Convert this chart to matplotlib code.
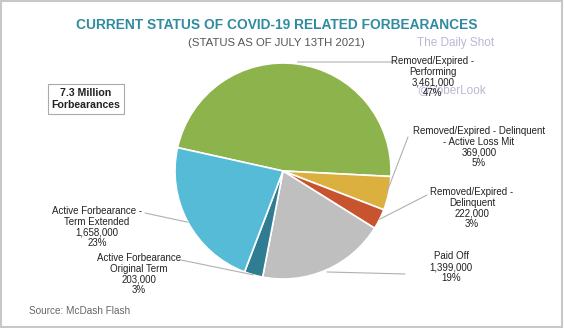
import numpy as np
import matplotlib
matplotlib.use("Agg")
import matplotlib.pyplot as plt
from matplotlib.patches import Rectangle

# データ
categories = ["Removed/Expired -\nPerforming",
              "Removed/Expired - Delinquent\n- Active Loss Mit",
              "Removed/Expired -\nDelinquent",
              "Paid Off",
              "Active Forbearance\nOriginal Term",
              "Active Forbearance -\nTerm Extended"]
values = [3461000, 369000, 222000, 1399000, 203000, 1658000]
percents = [47, 5, 3, 19, 3, 23]
colors = ["#8db34c", "#dcb03e", "#c8532f", "#bfbfbf", "#2f7c93", "#55bbd6"]

W, H = 564, 328
plt.rcParams['font.family'] = ['Liberation Sans', 'DejaVu Sans']

fig = plt.figure(figsize=(W / 100, H / 100), dpi=100)
fig.patch.set_facecolor("white")

# 外枠
fig.patches.append(Rectangle((0.002, 0.003), 0.994, 0.994, transform=fig.transFigure,
                             fill=False, edgecolor="#c8c8c8", linewidth=1.5))

def fx(px):
    return px / W

def fy(py):
    return 1 - py / H

# 円グラフ（中心 283,171 半径 108 px）
cx, cy, r = 283, 171, 108
ax = fig.add_axes([fx(cx - r), fy(cy + r), 2 * r / W, 2 * r / H])
wedges, _ = ax.pie(values, colors=colors, startangle=167.5, counterclock=False,
                   radius=1, wedgeprops=dict(edgecolor="white", linewidth=1.2))
ax.set_xlim(-1, 1)
ax.set_ylim(-1, 1)
ax.axis("off")

# タイトル
fig.text(fx(277), fy(25), "CURRENT STATUS OF COVID-19 RELATED FORBEARANCES",
         ha="center", va="center", fontsize=9.9, fontweight="bold", color="#2f8ba0")
fig.text(fx(276), fy(43), "(STATUS AS OF JULY 13TH 2021)",
         ha="center", va="center", fontsize=8.2, color="#555555")

# ウォーターマーク
fig.text(fx(456), fy(43), "The Daily Shot", ha="center", va="center",
         fontsize=8.5, color="#b8b8d4")
fig.text(fx(452), fy(90), "@SoberLook", ha="center", va="center",
         fontsize=8.5, color="#b8b8d4")

# 合計ボックス
fig.text(fx(86), fy(99), "7.3 Million\nForbearances", ha="center", va="center",
         fontsize=7.6, fontweight="bold", color="#222222", linespacing=1.25,
         bbox=dict(boxstyle="square,pad=0.38", facecolor="white", edgecolor="#aaaaaa", linewidth=0.8))

# ラベル位置（テキスト中心）と引き出し線の端点（px）
label_pos = [(433, 77), (479, 147), (472, 208), (451, 267), (139, 274), (97, 227)]
line_end = [(395, 62), (408, 137), (427, 195), (405, 274), (181, 260), (145, 213)]
anchor_r = [1.0, 0.98, 1.0, 1.02, 1.0, 1.0]

for i, w in enumerate(wedges):
    ang = np.deg2rad((w.theta1 + w.theta2) / 2)
    px, py = anchor_r[i] * np.cos(ang), anchor_r[i] * np.sin(ang)
    ex, ey = line_end[i]
    if i == 0:
        # 一番上のラベルは水平線
        py = (cy - ey) / r
    ax.annotate("", xy=(px, py), xytext=(ex, H - ey), textcoords="figure pixels",
                arrowprops=dict(arrowstyle="-", color="#b0b0b0", lw=0.8,
                                shrinkA=0, shrinkB=0), annotation_clip=False)
    lx, ly = label_pos[i]
    txt = f"{categories[i]}\n{values[i]:,}\n{percents[i]}%"
    fig.text(fx(lx), fy(ly), txt, ha="center", va="center", fontsize=7,
             color="#222222", linespacing=1.12)

# 出典
fig.text(fx(29), fy(311), "Source: McDash Flash", ha="left", va="center",
         fontsize=7.2, color="#666666")

plt.savefig("out.png", dpi=100)
plt.close()
